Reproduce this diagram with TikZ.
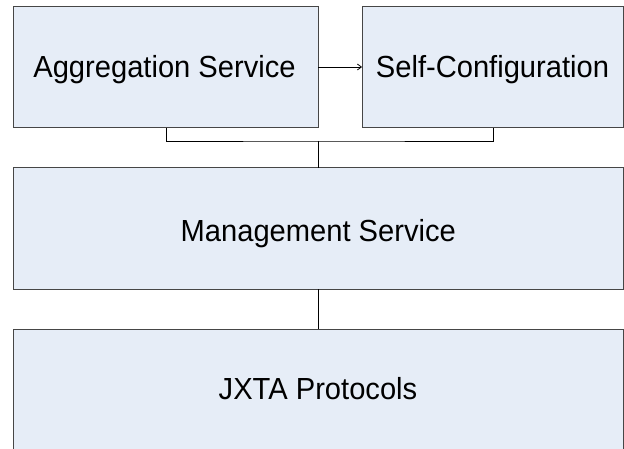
\documentclass[tikz,border=0pt]{standalone}
\usepackage{fontspec}
\setmainfont{Liberation Sans}[FakeStretch=0.955]
\usetikzlibrary{arrows.meta}
\definecolor{boxfill}{RGB}{230,237,247}
\definecolor{boxline}{RGB}{70,70,70}
\begin{document}
\begin{tikzpicture}[x=1pt,y=-1pt,
  blk/.style={draw=boxline,fill=boxfill,line width=1pt},
  lbl/.style={font=\fontsize{30.5}{33}\selectfont,inner sep=0pt,anchor=base},
  wire/.style={draw=black,line width=0.8pt}]
\useasboundingbox (0,0) rectangle (624,449);
\fill[white] (0,0) rectangle (624,449);
% boxes
\path[blk] (13,7) rectangle (318,128);
\node[lbl] (agg) at (164.5,77.3) {Aggregation Service};
\coordinate (aggR) at (318,67);
\coordinate (aggB) at (166,128);
\path[blk] (362,7) rectangle (623,128);
\node[lbl] (self) at (492.5,77.3) {Self-Configuration};
\coordinate (selfL) at (362,67);
\coordinate (selfB) at (493,128);
\path[blk] (13,168) rectangle (623,289);
\node[lbl] (mgmt) at (318.3,241.7) {Management Service};
\coordinate (mgmtT) at (318,168);
\coordinate (mgmtB) at (318,289);
\fill[boxfill] (13.5,329.5) rectangle (622.5,449);
\draw[boxline,line width=1pt] (623,449) -- (623,329) -- (13,329) -- (13,449);
\node[lbl] (jxta) at (318,399) {JXTA Protocols};
\coordinate (jxtaT) at (318,329);
% connectors
\draw[wire,-{Straight Barb[length=4pt,width=6pt]}] (aggR) -- (selfL);
\coordinate (bus) at (318,141);
\draw[wire] (aggB) |- (bus) -| (selfB);
\draw[wire] (bus) -- (mgmtT);
\draw[wire] (mgmtB) -- (jxtaT);
\end{tikzpicture}
\end{document}
